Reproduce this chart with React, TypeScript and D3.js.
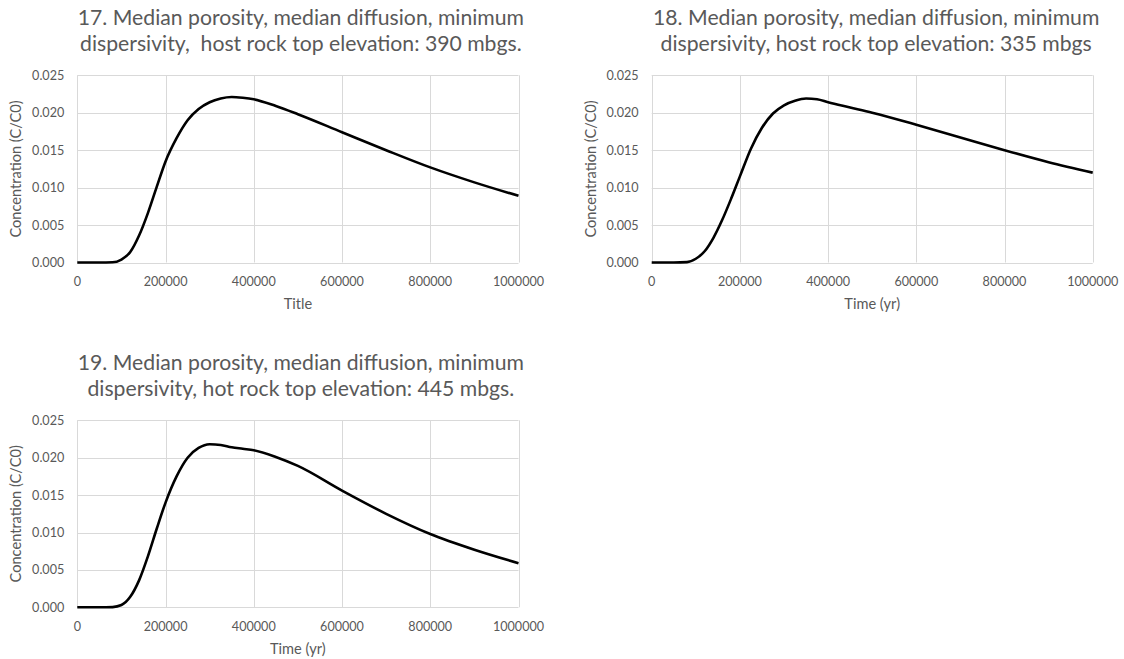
import React from "react";
import * as d3 from "d3";

const times = [0, 50000, 80000, 100000, 120000, 140000, 160000, 180000, 200000, 225000, 250000, 275000, 300000, 325000, 350000, 375000, 400000, 450000, 500000, 600000, 700000, 800000, 900000, 1000000];

const series17 = [0, 0, 0.00003, 0.0004, 0.0014, 0.0036, 0.0066, 0.0101, 0.0135, 0.0166, 0.0190, 0.0205, 0.0214, 0.0219, 0.0221, 0.0220, 0.0218, 0.0209, 0.0198, 0.0174, 0.0150, 0.0127, 0.0107, 0.0089];
const series18 = [0, 0, 0.00005, 0.0005, 0.0015, 0.0033, 0.0057, 0.0085, 0.0115, 0.0152, 0.0180, 0.0199, 0.0210, 0.0216, 0.0219, 0.0218, 0.0214, 0.0207, 0.0200, 0.0184, 0.0167, 0.0150, 0.0134, 0.0120];
const series19 = [0, 0, 0.00003, 0.0003, 0.0014, 0.0036, 0.0068, 0.0105, 0.0140, 0.0175, 0.0200, 0.0213, 0.0218, 0.0217, 0.0214, 0.0212, 0.0210, 0.0201, 0.0189, 0.0156, 0.0125, 0.0098, 0.0077, 0.0059];

const xTicks = [0, 200000, 400000, 600000, 800000, 1000000];
const yTicks = [0, 0.005, 0.01, 0.015, 0.02, 0.025];

const titles17 = ["17. Median porosity, median diffusion, minimum", "dispersivity,  host rock top elevation: 390 mbgs."];
const titles18 = ["18. Median porosity, median diffusion, minimum", "dispersivity, host rock top elevation: 335 mbgs"];
const titles19 = ["19. Median porosity, median diffusion, minimum", "dispersivity, hot rock top elevation: 445 mbgs."];

const yAxisTitle = "Concentration (C/C0)";

const FONT = "Lato, 'Open Sans', sans-serif";
const TEXT = "#595959";
const GRID = "#d9d9d9";

type PanelProps = {
  left: number; top: number; width: number; height: number;
  values: number[]; titleLines: string[]; xTitle: string; titleDx: number;
};

function Panel({ left, top, width, height, values, titleLines, xTitle, titleDx }: PanelProps) {
  const x = d3.scaleLinear().domain([0, 1000000]).range([left, left + width]);
  const y = d3.scaleLinear().domain([0, 0.025]).range([top + height, top]);
  const data = times.map((t, i) => [t, values[i]] as [number, number]);
  const line = d3.line<[number, number]>().x(d => x(d[0])).y(d => y(d[1])).curve(d3.curveMonotoneX);
  const cx = left + width / 2 + titleDx;
  return (
    <g>
      {titleLines.map((t, i) => (
        <text key={i} x={cx} y={top - 50 + i * 26} textAnchor="middle" fontSize={21.2} fill={TEXT} fontFamily={FONT} style={{ whiteSpace: "pre" }}>{t}</text>
      ))}
      {yTicks.map(v => (
        <line key={"h" + v} x1={left} x2={left + width} y1={Math.round(y(v)) + 0.5} y2={Math.round(y(v)) + 0.5} stroke={GRID} strokeWidth={1} />
      ))}
      {xTicks.map(v => (
        <line key={"v" + v} x1={Math.round(x(v)) + 0.5} x2={Math.round(x(v)) + 0.5} y1={top} y2={top + height} stroke={GRID} strokeWidth={1} />
      ))}
      <path d={line(data) || ""} fill="none" stroke="#000" strokeWidth={2.6} strokeLinejoin="round" />
      {yTicks.map(v => (
        <text key={"yl" + v} x={left - 13} y={y(v) + 4.5} textAnchor="end" fontSize={12.6} fill={TEXT} fontFamily={FONT}>{d3.format(".3f")(v)}</text>
      ))}
      {xTicks.map(v => (
        <text key={"xl" + v} x={x(v)} y={top + height + 23.5} textAnchor="middle" fontSize={12.6} fill={TEXT} fontFamily={FONT}>{String(v)}</text>
      ))}
      <text x={left + width / 2} y={top + height + 46.5} textAnchor="middle" fontSize={14.6} fill={TEXT} fontFamily={FONT}>{xTitle}</text>
      <text transform={`translate(${left - 56},${top + height / 2}) rotate(-90)`} textAnchor="middle" fontSize={14.6} fill={TEXT} fontFamily={FONT}>{yAxisTitle}</text>
    </g>
  );
}

export default function App() {
  return (
    <svg width={1124} height={659} style={{ position: "absolute", left: 0, top: 0, background: "#fff" }}>
      <rect x={0} y={0} width={1124} height={659} fill="#fff" />
      <Panel left={77.3} top={75.3} width={441.2} height={187.2} values={series17} titleLines={titles17} xTitle="Title" titleDx={3} />
      <Panel left={651.7} top={75.3} width={441} height={187.2} values={series18} titleLines={titles18} xTitle="Time (yr)" titleDx={4} />
      <Panel left={77.3} top={420.3} width={441.2} height={187} values={series19} titleLines={titles19} xTitle="Time (yr)" titleDx={3} />
    </svg>
  );
}
